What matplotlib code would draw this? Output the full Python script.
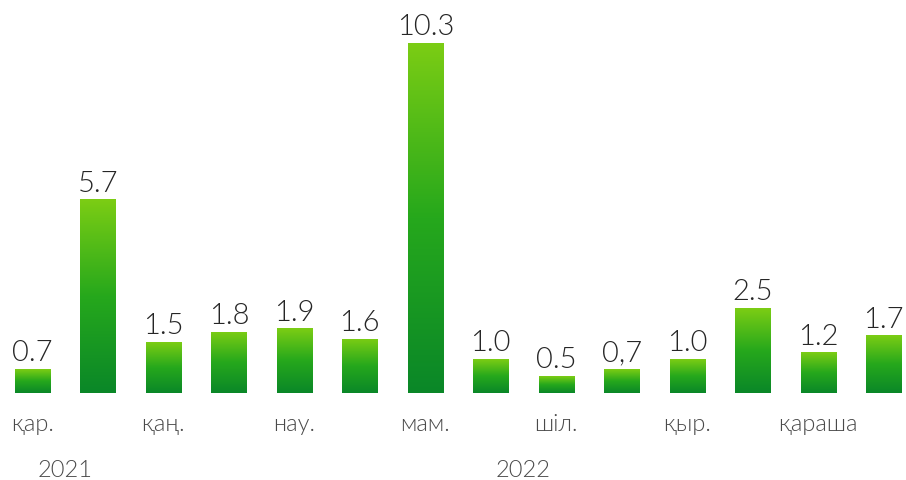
import numpy as np
import matplotlib.pyplot as plt
from matplotlib.colors import LinearSegmentedColormap

values = [0.7, 5.7, 1.5, 1.8, 1.9, 1.6, 10.3, 1.0, 0.5, 0.7, 1.0, 2.5, 1.2, 1.7]
value_labels = ["0.7", "5.7", "1.5", "1.8", "1.9", "1.6", "10.3", "1.0", "0.5",
                "0,7", "1.0", "2.5", "1.2", "1.7"]
months = ["қар.", "", "қаң.", "", "нау.", "", "мам.", "", "шіл.", "", "қыр.", "", "қараша", ""]
years = ["2021", "2022"]
year_pos = [0.5, 7.5]

plt.rcParams['font.family'] = ['Lato', 'DejaVu Sans']

fig = plt.figure(figsize=(9.06, 4.8), dpi=100)
ax = fig.add_axes([0, 0, 1, 1])
ax.set_xlim(-0.4965, 13.344)
ax.set_ylim(-2.56, 11.565)
ax.axis('off')

cmap = LinearSegmentedColormap.from_list('g', ['#0a8728', '#26a81c', '#7ccd14'])
grad = np.linspace(0, 1, 256).reshape(-1, 1)
x = np.arange(len(values))
w = 0.535
bars = ax.bar(x, values, width=w, color='none', edgecolor='none')
for b, v in zip(bars, values):
    im = ax.imshow(grad, cmap=cmap, origin='lower', aspect='auto',
                   extent=[b.get_x(), b.get_x() + w, 0, v], zorder=2)
    im.set_clip_path(b)

for xi, v, lab in zip(x, values, value_labels):
    ax.text(xi, v + 0.08, lab, ha='center', va='bottom', fontsize=21,
            fontweight=300, color='#262626')

for xi, m in zip(x, months):
    ax.text(xi, -0.93, m, ha='center', va='center', fontsize=17,
            fontweight=300, color='#4a4a4a')

for xp, yr in zip(year_pos, years):
    ax.text(xp, -2.27, yr, ha='center', va='center', fontsize=17,
            fontweight=300, color='#4a4a4a')

fig.savefig('out.png', dpi=100)
